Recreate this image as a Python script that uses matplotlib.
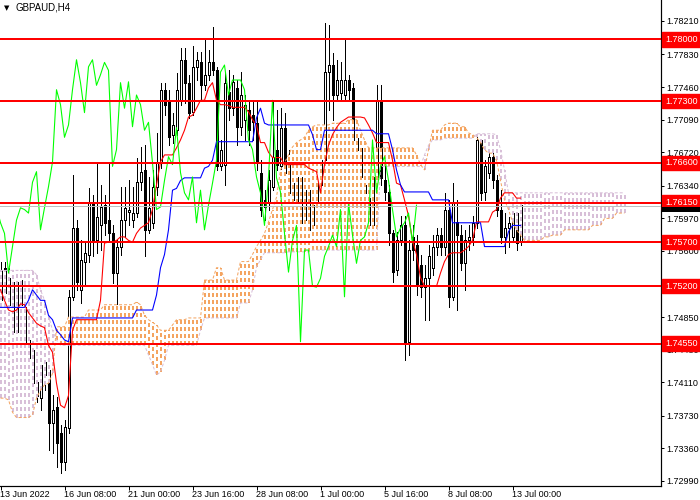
import matplotlib
matplotlib.use("Agg")
import matplotlib.pyplot as plt
from matplotlib.patches import Rectangle
import matplotlib.transforms as mtransforms

# ---------------- data (GBPAUD H4) ----------------
opens = [1.7504, 1.7541, 1.7499, 1.7525, 1.7468, 1.7527, 1.7496, 1.7459, 1.7448, 1.7411,
         1.7393, 1.7419, 1.7425, 1.7365, 1.7383, 1.7354, 1.7320, 1.7359, 1.7508, 1.7586,
         1.7516, 1.7548, 1.7556, 1.7614, 1.7572, 1.7589, 1.7612, 1.7595, 1.7580, 1.7535,
         1.7565, 1.7595, 1.7604, 1.7595, 1.7603, 1.7638, 1.7652, 1.7584, 1.7592, 1.7633,
         1.7660, 1.7743, 1.7731, 1.7692, 1.7697, 1.7731, 1.7777, 1.7751, 1.7718, 1.7769,
         1.7774, 1.7748, 1.7760, 1.7774, 1.7765, 1.7656, 1.7658, 1.7740, 1.7722, 1.7745,
         1.7701, 1.7709, 1.7720, 1.7714, 1.7705, 1.7649, 1.7618, 1.7614, 1.7633, 1.7675,
         1.7656, 1.7700, 1.7658, 1.7637, 1.7614, 1.7644, 1.7595, 1.7629, 1.7589, 1.7616,
         1.7635, 1.7663, 1.7763, 1.7771, 1.7737, 1.7739, 1.7737, 1.7754, 1.7745, 1.7688,
         1.7677, 1.7635, 1.7620, 1.7589, 1.7644, 1.7731, 1.7640, 1.7627, 1.7580, 1.7538,
         1.7572, 1.7589, 1.7457, 1.7576, 1.7567, 1.7544, 1.7519, 1.7529, 1.7541, 1.7565,
         1.7578, 1.7565, 1.7607, 1.7508, 1.7593, 1.7578, 1.7546, 1.7572, 1.7576, 1.7592,
         1.7686, 1.7627, 1.7649, 1.7667, 1.7640, 1.7607, 1.7576, 1.7586, 1.7576, 1.7603,
         1.7570]
highs = [1.7548, 1.7548, 1.7541, 1.7533, 1.7538, 1.7538, 1.7504, 1.7465, 1.7453, 1.7448,
         1.7448, 1.7451, 1.7436, 1.7396, 1.7394, 1.7362, 1.7368, 1.7516, 1.7646, 1.7595,
         1.7572, 1.7569, 1.7631, 1.7624, 1.7660, 1.7635, 1.7624, 1.7660, 1.7589, 1.7572,
         1.7633, 1.7633, 1.7640, 1.7633, 1.7666, 1.7678, 1.7680, 1.7644, 1.7652, 1.7694,
         1.7751, 1.7751, 1.7743, 1.7717, 1.7762, 1.7790, 1.7790, 1.7760, 1.7793, 1.7786,
         1.7786, 1.7799, 1.7788, 1.7814, 1.7769, 1.7686, 1.7763, 1.7765, 1.7760, 1.7754,
         1.7763, 1.7737, 1.7731, 1.7731, 1.7731, 1.7663, 1.7629, 1.7652, 1.7729, 1.7720,
         1.7722, 1.7717, 1.7675, 1.7652, 1.7658, 1.7663, 1.7646, 1.7640, 1.7624, 1.7652,
         1.7697, 1.7819, 1.7816, 1.7785, 1.7777, 1.7774, 1.7799, 1.7760, 1.7751, 1.7709,
         1.7697, 1.7652, 1.7635, 1.7658, 1.7748, 1.7748, 1.7658, 1.7635, 1.7584, 1.7582,
         1.7600, 1.7600, 1.7572, 1.7589, 1.7578, 1.7556, 1.7544, 1.7567, 1.7578, 1.7586,
         1.7586, 1.7626, 1.7618, 1.7637, 1.7618, 1.7589, 1.7584, 1.7589, 1.7600, 1.7692,
         1.7692, 1.7663, 1.7683, 1.7683, 1.7646, 1.7629, 1.7603, 1.7598, 1.7610, 1.7610,
         1.7618]
lows = [1.7499, 1.7504, 1.7491, 1.7459, 1.7459, 1.7493, 1.7453, 1.7431, 1.7404, 1.7389,
        1.7380, 1.7402, 1.7334, 1.7331, 1.7315, 1.7308, 1.7311, 1.7354, 1.7504, 1.7516,
        1.7501, 1.7520, 1.7548, 1.7554, 1.7558, 1.7561, 1.7578, 1.7572, 1.7524, 1.7496,
        1.7556, 1.7576, 1.7589, 1.7587, 1.7598, 1.7629, 1.7554, 1.7580, 1.7586, 1.7624,
        1.7654, 1.7714, 1.7680, 1.7683, 1.7692, 1.7726, 1.7728, 1.7711, 1.7714, 1.7754,
        1.7731, 1.7743, 1.7754, 1.7760, 1.7652, 1.7652, 1.7635, 1.7709, 1.7714, 1.7680,
        1.7692, 1.7686, 1.7680, 1.7686, 1.7652, 1.7600, 1.7595, 1.7607, 1.7629, 1.7652,
        1.7652, 1.7640, 1.7618, 1.7600, 1.7607, 1.7586, 1.7589, 1.7578, 1.7578, 1.7612,
        1.7635, 1.7635, 1.7720, 1.7709, 1.7731, 1.7731, 1.7731, 1.7731, 1.7680, 1.7618,
        1.7624, 1.7607, 1.7584, 1.7584, 1.7640, 1.7635, 1.7618, 1.7567, 1.7525, 1.7533,
        1.7567, 1.7436, 1.7442, 1.7550, 1.7510, 1.7508, 1.7482, 1.7482, 1.7533, 1.7556,
        1.7556, 1.7556, 1.7496, 1.7504, 1.7493, 1.7538, 1.7516, 1.7561, 1.7567, 1.7586,
        1.7618, 1.7618, 1.7643, 1.7631, 1.7600, 1.7569, 1.7558, 1.7565, 1.7572, 1.7561,
        1.7567]
closes = [1.7538, 1.7512, 1.7529, 1.7468, 1.7525, 1.7499, 1.7457, 1.7438, 1.7410, 1.7395,
          1.7431, 1.7434, 1.7365, 1.7380, 1.7342, 1.7320, 1.7360, 1.7508, 1.7586, 1.7525,
          1.7550, 1.7558, 1.7614, 1.7572, 1.7598, 1.7610, 1.7592, 1.7580, 1.7535, 1.7565,
          1.7595, 1.7609, 1.7607, 1.7603, 1.7638, 1.7650, 1.7584, 1.7609, 1.7633, 1.7661,
          1.7743, 1.7726, 1.7689, 1.7703, 1.7743, 1.7777, 1.7751, 1.7717, 1.7769, 1.7777,
          1.7748, 1.7760, 1.7774, 1.7765, 1.7656, 1.7675, 1.7751, 1.7722, 1.7752, 1.7701,
          1.7737, 1.7726, 1.7697, 1.7706, 1.7660, 1.7607, 1.7610, 1.7640, 1.7667, 1.7658,
          1.7700, 1.7649, 1.7626, 1.7618, 1.7644, 1.7592, 1.7629, 1.7584, 1.7612, 1.7637,
          1.7663, 1.7763, 1.7771, 1.7737, 1.7754, 1.7754, 1.7754, 1.7743, 1.7686, 1.7675,
          1.7644, 1.7626, 1.7589, 1.7644, 1.7731, 1.7643, 1.7627, 1.7580, 1.7536, 1.7572,
          1.7589, 1.7457, 1.7561, 1.7561, 1.7520, 1.7519, 1.7529, 1.7554, 1.7565, 1.7578,
          1.7565, 1.7607, 1.7508, 1.7614, 1.7578, 1.7546, 1.7572, 1.7576, 1.7592, 1.7686,
          1.7626, 1.7656, 1.7667, 1.7640, 1.7607, 1.7576, 1.7586, 1.7592, 1.7603, 1.7569,
          1.7612]

tenkan = [1.7516, 1.7504, 1.7493, 1.7491, 1.7493, 1.7500, 1.7499, 1.7490, 1.7484, 1.7478,
          1.7475, 1.7473, 1.7453, 1.7445, 1.7410, 1.7385, 1.7382, 1.7396, 1.7470, 1.7482,
          1.7482, 1.7482, 1.7482, 1.7482, 1.7482, 1.7504, 1.7569, 1.7570, 1.7570, 1.7572,
          1.7576, 1.7576, 1.7572, 1.7570, 1.7580, 1.7586, 1.7589, 1.7592, 1.7607, 1.7635,
          1.7661, 1.7669, 1.7669, 1.7669, 1.7677, 1.7686, 1.7697, 1.7712, 1.7714, 1.7722,
          1.7731, 1.7731, 1.7745, 1.7751, 1.7731, 1.7726, 1.7726, 1.7725, 1.7723, 1.7723,
          1.7723, 1.7723, 1.7718, 1.7709, 1.7703, 1.7683, 1.7683, 1.7672, 1.7666, 1.7666,
          1.7666, 1.7658, 1.7658, 1.7658, 1.7658, 1.7658, 1.7658, 1.7654, 1.7652, 1.7650,
          1.7626, 1.7658, 1.7680, 1.7692, 1.7700, 1.7706, 1.7709, 1.7712, 1.7712, 1.7712,
          1.7712, 1.7711, 1.7703, 1.7694, 1.7683, 1.7683, 1.7683, 1.7683, 1.7663, 1.7637,
          1.7635, 1.7618, 1.7600, 1.7572, 1.7556, 1.7530, 1.7520, 1.7520, 1.7520, 1.7520,
          1.7535, 1.7548, 1.7556, 1.7558, 1.7558, 1.7558, 1.7561, 1.7565, 1.7572, 1.7593,
          1.7593, 1.7593, 1.7593, 1.7604, 1.7607, 1.7620, 1.7626, 1.7626, 1.7626, 1.7620,
          1.7620]
kijun = [1.7496, 1.7496, 1.7496, 1.7496, 1.7496, 1.7496, 1.7496, 1.7504, 1.7516, 1.7510,
         1.7504, 1.7504, 1.7487, 1.7482, 1.7470, 1.7465, 1.7459, 1.7457, 1.7484, 1.7484,
         1.7484, 1.7484, 1.7484, 1.7484, 1.7484, 1.7484, 1.7484, 1.7484, 1.7484, 1.7484,
         1.7484, 1.7484, 1.7484, 1.7484, 1.7493, 1.7493, 1.7493, 1.7493, 1.7493, 1.7510,
         1.7541, 1.7556, 1.7584, 1.7629, 1.7631, 1.7640, 1.7643, 1.7643, 1.7643, 1.7643,
         1.7643, 1.7654, 1.7656, 1.7663, 1.7684, 1.7684, 1.7684, 1.7684, 1.7684, 1.7684,
         1.7684, 1.7684, 1.7684, 1.7684, 1.7711, 1.7722, 1.7705, 1.7703, 1.7703, 1.7703,
         1.7703, 1.7703, 1.7703, 1.7703, 1.7703, 1.7703, 1.7703, 1.7703, 1.7692, 1.7675,
         1.7675, 1.7697, 1.7697, 1.7697, 1.7697, 1.7697, 1.7697, 1.7697, 1.7697, 1.7697,
         1.7697, 1.7697, 1.7697, 1.7697, 1.7693, 1.7693, 1.7693, 1.7693, 1.7675, 1.7652,
         1.7635, 1.7627, 1.7627, 1.7627, 1.7627, 1.7627, 1.7627, 1.7627, 1.7618, 1.7618,
         1.7618, 1.7618, 1.7618, 1.7592, 1.7592, 1.7592, 1.7592, 1.7592, 1.7592, 1.7592,
         1.7592, 1.7565, 1.7565, 1.7565, 1.7565, 1.7565, 1.7565, 1.7582, 1.7589, 1.7589,
         1.7589]
senkou_a = [1.7393, 1.7393, 1.7391, 1.7377, 1.7371, 1.7371, 1.7371, 1.7371, 1.7374, 1.7393,
            1.7402, 1.7408, 1.7410, 1.7421, 1.7474, 1.7474, 1.7474, 1.7485, 1.7485, 1.7485,
            1.7485, 1.7485, 1.7493, 1.7493, 1.7493, 1.7493, 1.7499, 1.7499, 1.7499, 1.7499,
            1.7499, 1.7499, 1.7499, 1.7499, 1.7502, 1.7499, 1.7487, 1.7482, 1.7479, 1.7476,
            1.7470, 1.7470, 1.7470, 1.7476, 1.7482, 1.7482, 1.7482, 1.7484, 1.7484, 1.7484,
            1.7484, 1.7527, 1.7527, 1.7527, 1.7541, 1.7541, 1.7527, 1.7527, 1.7527, 1.7527,
            1.7548, 1.7548, 1.7548, 1.7556, 1.7565, 1.7572, 1.7580, 1.7593, 1.7607, 1.7621,
            1.7652, 1.7660, 1.7669, 1.7678, 1.7683, 1.7686, 1.7689, 1.7697, 1.7701, 1.7703,
            1.7703, 1.7703, 1.7703, 1.7705, 1.7705, 1.7705, 1.7705, 1.7709, 1.7709, 1.7709,
            1.7697, 1.7686, 1.7677, 1.7677, 1.7677, 1.7677, 1.7677, 1.7677, 1.7677, 1.7677,
            1.7677, 1.7677, 1.7677, 1.7677, 1.7669, 1.7658, 1.7652, 1.7675, 1.7697, 1.7697,
            1.7697, 1.7703, 1.7705, 1.7705, 1.7705, 1.7701, 1.7701, 1.7694, 1.7692, 1.7689,
            1.7683, 1.7675, 1.7671, 1.7671, 1.7663, 1.7640, 1.7618, 1.7607, 1.7593, 1.7584,
            1.7578, 1.7572, 1.7572, 1.7572, 1.7572, 1.7572, 1.7576, 1.7576, 1.7578, 1.7578,
            1.7578, 1.7584, 1.7584, 1.7584, 1.7584, 1.7584, 1.7584, 1.7584, 1.7589, 1.7589,
            1.7589, 1.7597, 1.7597, 1.7597, 1.7603, 1.7603, 1.7603]
senkou_b = [1.7538, 1.7538, 1.7538, 1.7538, 1.7538, 1.7538, 1.7538, 1.7538, 1.7538, 1.7533,
            1.7516, 1.7504, 1.7487, 1.7470, 1.7459, 1.7453, 1.7453, 1.7453, 1.7453, 1.7453,
            1.7453, 1.7453, 1.7453, 1.7453, 1.7453, 1.7453, 1.7453, 1.7453, 1.7453, 1.7453,
            1.7453, 1.7453, 1.7453, 1.7453, 1.7453, 1.7453, 1.7453, 1.7442, 1.7431, 1.7419,
            1.7423, 1.7436, 1.7453, 1.7453, 1.7453, 1.7453, 1.7453, 1.7453, 1.7453, 1.7453,
            1.7470, 1.7484, 1.7484, 1.7484, 1.7484, 1.7484, 1.7484, 1.7484, 1.7484, 1.7484,
            1.7501, 1.7501, 1.7501, 1.7516, 1.7542, 1.7550, 1.7558, 1.7558, 1.7558, 1.7558,
            1.7558, 1.7558, 1.7559, 1.7559, 1.7559, 1.7559, 1.7559, 1.7559, 1.7561, 1.7561,
            1.7561, 1.7561, 1.7561, 1.7561, 1.7561, 1.7561, 1.7561, 1.7561, 1.7561, 1.7561,
            1.7561, 1.7561, 1.7561, 1.7561, 1.7561, 1.7656, 1.7656, 1.7656, 1.7656, 1.7656,
            1.7656, 1.7656, 1.7656, 1.7656, 1.7656, 1.7656, 1.7669, 1.7680, 1.7686, 1.7686,
            1.7686, 1.7688, 1.7688, 1.7688, 1.7688, 1.7688, 1.7688, 1.7688, 1.7688, 1.7693,
            1.7693, 1.7693, 1.7693, 1.7693, 1.7692, 1.7675, 1.7652, 1.7626, 1.7626, 1.7626,
            1.7626, 1.7626, 1.7626, 1.7626, 1.7626, 1.7626, 1.7626, 1.7626, 1.7626, 1.7626,
            1.7626, 1.7626, 1.7626, 1.7626, 1.7626, 1.7626, 1.7626, 1.7626, 1.7626, 1.7626,
            1.7626, 1.7626, 1.7626, 1.7626, 1.7626, 1.7626, 1.7626]

chikou_shift = 26
levels = [1.7800, 1.7730, 1.7660, 1.7615, 1.7570, 1.7520, 1.7455]
level_labels = ["1.78000", "1.77300", "1.76600", "1.76150", "1.75700", "1.75200", "1.74550"]
bid_price = 1.7611
price_ticks = [1.72990, 1.73360, 1.73730, 1.74110, 1.74480, 1.74850, 1.75600,
               1.75970, 1.76340, 1.76720, 1.77090, 1.77460, 1.77830, 1.78210]
date_labels = ["13 Jun 2022", "16 Jun 08:00", "21 Jun 00:00", "23 Jun 16:00", "28 Jun 08:00",
               "1 Jul 00:00", "5 Jul 16:00", "8 Jul 08:00", "13 Jul 00:00"]
date_bars = [0, 16, 32, 48, 64, 80, 96, 112, 128]
title = "GBPAUD,H4"

# ---------------- figure ----------------
FONT = "Liberation Sans"
W, H = 700, 500
fig = plt.figure(figsize=(7, 5), dpi=100)
fig.patch.set_facecolor("white")
AX_W = 661
ax = fig.add_axes([0, 14 / H, AX_W / W, 486 / H])
ax.set_facecolor("white")
# bar i is drawn at the centre of pixel column 4*i
x0 = -0.5 / 4
ax.set_xlim(x0, x0 + AX_W / 4)
ax.set_ylim(1.72933, 1.78448)

PX = 0.72  # one pixel in points
SAND = "#F4A460"
THISTLE = "#D8BFD8"

# candles
for i in range(len(closes)):
    o, h, l, c = opens[i], highs[i], lows[i], closes[i]
    ax.plot([i, i], [l, h], color="black", lw=PX, zorder=2, antialiased=False,
            solid_capstyle="butt")
    bottom = min(o, c)
    height = max(abs(c - o), 0.00005)
    face = "white" if c >= o else "black"
    ax.add_patch(Rectangle((i - 0.25, bottom), 0.5, height, facecolor=face,
                           edgecolor="black", lw=PX, zorder=3, antialiased=False))

# cloud hatching: one dotted vertical stroke (2 px wide) per bar
for i in range(len(senkou_a)):
    a, b = senkou_a[i], senkou_b[i]
    col = SAND if a >= b else THISTLE
    ax.plot([i + 0.125, i + 0.125], [min(a, b), max(a, b)], color=col, lw=2 * PX,
            dashes=(1.5, 1.5), gapcolor="white", zorder=4, antialiased=False,
            dash_capstyle="butt")

xs_cloud = list(range(len(senkou_a)))
ax.plot(xs_cloud, senkou_a, color=SAND, lw=PX, dashes=(3, 2), zorder=5)
ax.plot(xs_cloud, senkou_b, color=THISTLE, lw=PX, dashes=(3, 2), zorder=5)

xs = list(range(len(closes)))
ax.plot(xs, tenkan, color="red", lw=PX * 1.1, zorder=6)
ax.plot(xs, kijun, color="blue", lw=PX * 1.1, zorder=6)
ax.plot([i - chikou_shift for i in xs], closes, color="#00FF00", lw=PX * 1.1, zorder=6)

# bid line and horizontal levels
ax.axhline(bid_price, color="#C0C0C0", lw=PX, zorder=6.5, antialiased=False)
for lv in levels:
    ax.axhline(lv, color="red", lw=2 * PX, zorder=7, antialiased=False)

# axes styling
for s in ["top", "left"]:
    ax.spines[s].set_visible(False)
for s in ["right", "bottom"]:
    ax.spines[s].set_color("black")
    ax.spines[s].set_linewidth(PX * 1.2)

ax.yaxis.tick_right()
ax.set_yticks(price_ticks)
ax.set_yticklabels([f"{t:.5f}" for t in price_ticks], fontsize=6.5, family=FONT)
ax.tick_params(axis="y", length=2.2, width=PX, pad=1.6, colors="black")
ax.set_xticks(date_bars)
ax.set_xticklabels(date_labels, fontsize=6.5, family=FONT, ha="left")
ax.tick_params(axis="x", length=2.9, width=PX, pad=0.3, colors="black")

# bid marker on the price axis (mostly hidden by the 1.76150 label, as in MT4)
fig.patches.append(Rectangle((662 / W, 1 - 212 / H), 38 / W, 5 / H, facecolor="black",
                             edgecolor="none", transform=fig.transFigure, figure=fig,
                             zorder=1))

# level labels on the price axis
trans = mtransforms.blended_transform_factory(ax.transAxes, ax.transData)
for lv, lab in zip(levels, level_labels):
    ax.text(665 / AX_W, lv, lab, transform=trans, fontsize=6.5, family=FONT, color="white",
            va="center", ha="left", clip_on=False, zorder=9,
            bbox=dict(boxstyle="square,pad=0.3", facecolor="red", edgecolor="red"))

# title
fig.text(4 / W, 1 - 8 / H, "\u25BC", fontsize=5, family="DejaVu Sans", va="center", ha="left")
fig.text(15 / W, 1 - 8 / H, title, fontsize=7, family=FONT, va="center", ha="left")

fig.savefig("out.png", dpi=100, facecolor="white")
